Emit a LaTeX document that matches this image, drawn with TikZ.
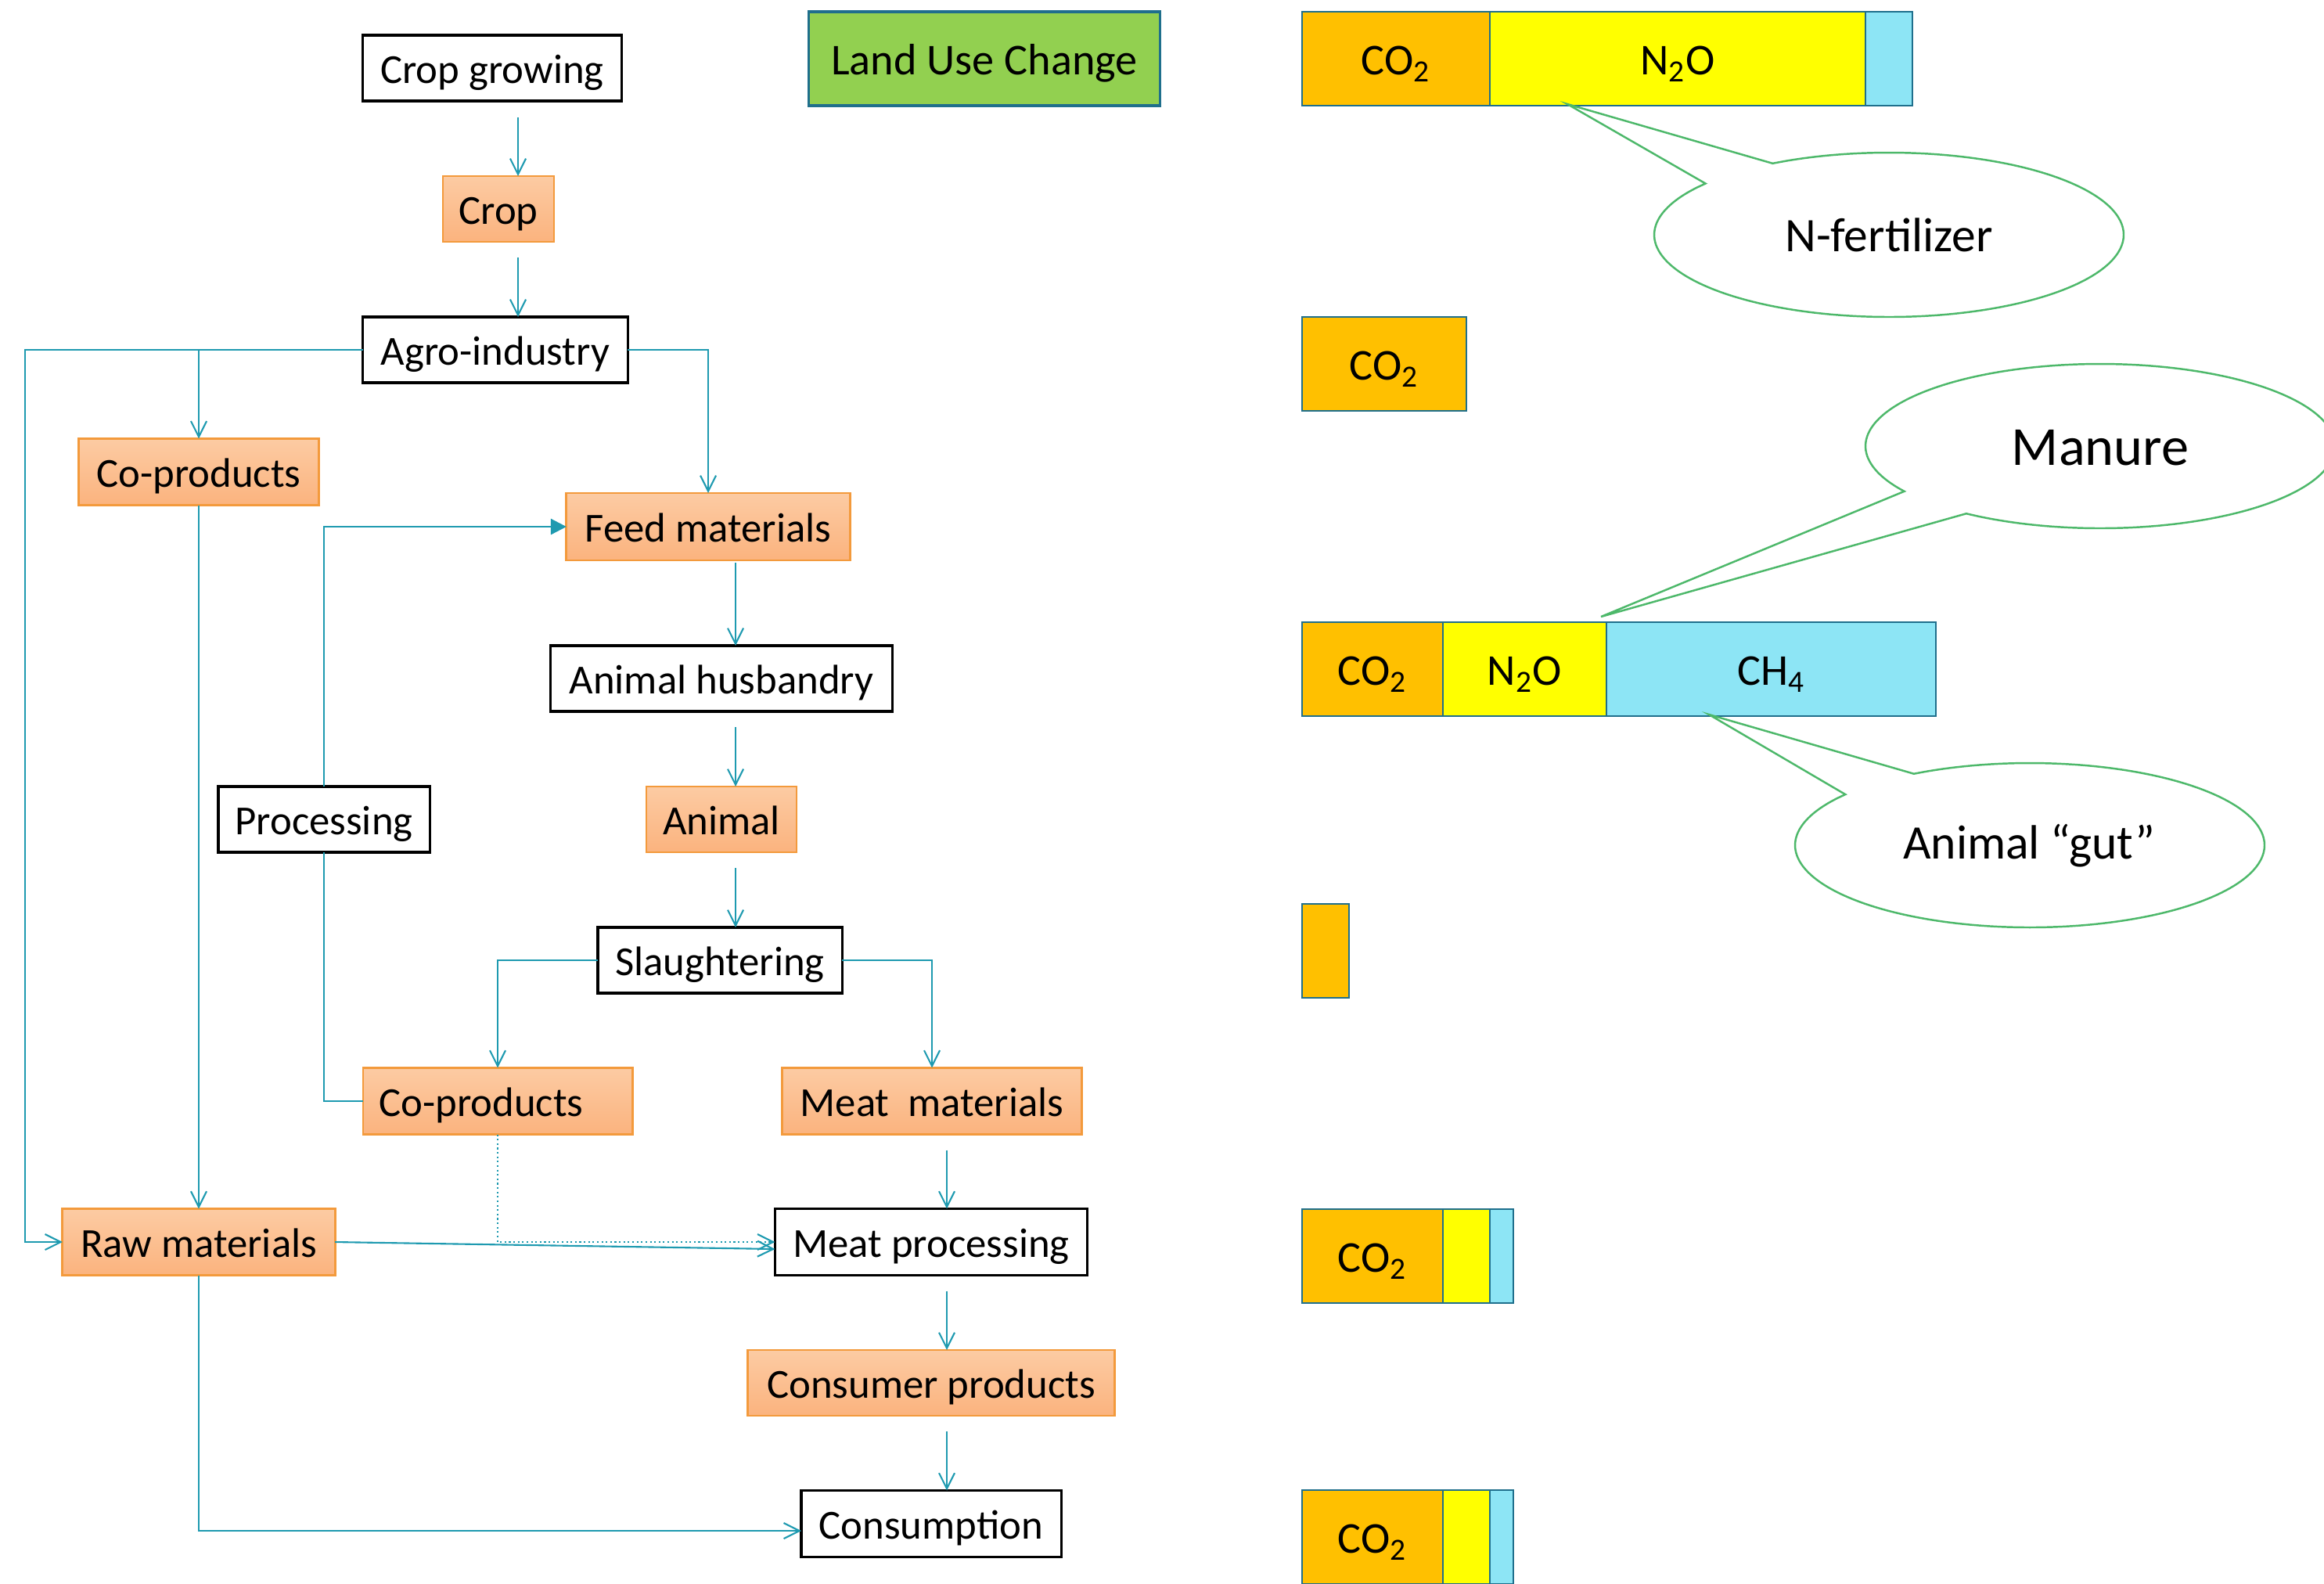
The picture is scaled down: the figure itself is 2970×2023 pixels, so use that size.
\documentclass[tikz,border=0pt]{standalone}
\usepackage{fontspec}
\setmainfont{Carlito}
\usetikzlibrary{arrows.meta,calc}
\definecolor{arrc}{HTML}{1E9AB0}
\definecolor{barb}{HTML}{1F6F8C}
\definecolor{otop}{HTML}{FCCBA3}
\definecolor{obot}{HTML}{FBB37E}
\definecolor{obord}{HTML}{F39A3C}
\definecolor{callg}{HTML}{4DB86A}
\definecolor{coc}{HTML}{FFC000}
\definecolor{nnc}{HTML}{FFFF00}
\definecolor{chc}{HTML}{8DE5F5}
\definecolor{lucc}{HTML}{92D050}
\tikzset{
  wbox/.style={draw=black,line width=0.9pt,fill=white,inner sep=0pt,outer sep=0pt,minimum height=0.84cm,text height=0.46cm,text depth=0.08cm,font=\fontsize{15}{18}\selectfont},
  obox/.style={draw=obord,line width=0.8pt,top color=otop,bottom color=obot,inner sep=0pt,outer sep=0pt,minimum height=0.85cm,text height=0.46cm,text depth=0.08cm,font=\fontsize{15}{18}\selectfont},
  gbar/.style={draw=barb,line width=0.7pt,inner sep=0pt,outer sep=0pt,minimum height=1.2cm,text height=0.48cm,text depth=0.08cm,font=\fontsize{16}{19}\selectfont},
  arr/.style={draw=arrc,line width=0.6pt,-{Straight Barb[length=0.2cm,width=0.2cm]}},
  plainline/.style={draw=arrc,line width=0.6pt},
  farr/.style={draw=arrc,line width=0.75pt,-{Triangle[length=0.2cm,width=0.2cm]}},
  dotarr/.style={draw=arrc,line width=0.6pt,densely dotted,-{Straight Barb[length=0.2cm,width=0.2cm]}},
  callout/.style={draw=callg,line width=0.7pt,fill=white},
  ctext/.style={font=\fontsize{17.5}{21}\selectfont}
}
\begin{document}
\begin{tikzpicture}[x=0.01cm,y=-0.01cm]
\useasboundingbox (0,0) rectangle (2970,2023);
\clip (0,0) rectangle (2970,2023);
% columns
\coordinate (cA) at (662,0);
\coordinate (cB) at (940,0);
\coordinate (cC) at (1210,0);
\coordinate (cL) at (32,0);
% nodes
\node[wbox,minimum width=3.30cm] (cg) at (629,87) {Crop growing};
\node[draw=barb,line width=1pt,fill=lucc,inner sep=0pt,minimum width=4.49cm,minimum height=1.2cm,text height=0.48cm,text depth=0.08cm,font=\fontsize{16}{19}\selectfont] (luc) at (1258,75) {Land Use Change};
\node[obox,minimum width=1.42cm,minimum height=0.84cm] (crop) at (637,267) {Crop};
\node[wbox,minimum width=3.38cm] (agro) at (633,447) {Agro-industry};
\node[obox,minimum width=3.07cm] (cop1) at (254,603) {Co-products};
\node[obox,minimum width=3.62cm,minimum height=0.86cm] (feed) at (905,673) {Feed materials};
\node[wbox,minimum width=4.36cm] (hus) at (922,867) {Animal husbandry};
\node[wbox,minimum width=2.70cm] (proc) at (414,1047) {Processing};
\node[obox,minimum width=1.92cm,minimum height=0.84cm] (animal) at (922,1047) {Animal};
\node[wbox,minimum width=3.12cm] (sl) at (920,1227) {Slaughtering};
\node[obox,minimum width=3.44cm] (cop2) at (636,1407) {Co-products\hspace*{0.42cm}};
\node[obox,minimum width=3.82cm] (meatm) at (1191,1407) {Meat\ \ materials};
\node[obox,minimum width=3.48cm] (raw) at (254,1587) {Raw materials};
\node[wbox,minimum width=3.99cm,minimum height=0.85cm] (mp) at (1190,1587) {Meat processing};
\node[obox,minimum width=4.68cm,minimum height=0.84cm] (cp) at (1190,1767) {Consumer products};
\node[wbox,minimum width=3.32cm,minimum height=0.85cm] (cons) at (1190,1947) {Consumption};
% connectors
\draw[arr] ($(cg.south -| cA)+(0,21)$) -- (crop.north -| cA);
\draw[arr] ($(crop.south -| cA)+(0,20)$) -- (agro.north -| cA);
\draw[arr] (agro.west) -- (agro.west -| cL) -- (raw.west -| cL) -- (raw.west);
\draw[arr] (agro.west -| cop1.north) -- (cop1.north);
\draw[arr] (agro.east) -| (feed.north);
\draw[arr] (cop1.south) -- (cop1.south |- raw.north);
\draw[arr] ($(feed.south -| cB)+(0,3)$) -- (hus.north -| cB);
\draw[arr] ($(hus.south -| cB)+(0,20)$) -- (animal.north -| cB);
\draw[arr] ($(animal.south -| cB)+(0,20)$) -- (sl.north -| cB);
\draw[arr] (sl.west) -| (cop2.north);
\draw[arr] (sl.east) -| (meatm.north);
\draw[plainline] (cop2.west) -| (proc.south);
\draw[farr] (proc.north) |- (feed.west);
\draw[dotarr] (cop2.south) |- (mp.west);
\draw[arr] (raw.east) -- ($(mp.west)+(0,9)$);
\draw[arr] ($(meatm.south -| cC)+(0,20)$) -- (mp.north -| cC);
\draw[arr] ($(mp.south -| cC)+(0,20)$) -- (cp.north -| cC);
\draw[arr] ($(cp.south -| cC)+(0,20)$) -- (cons.north -| cC);
\draw[arr] (raw.south) |- ($(cons.west)+(0,9)$);
% bars
\node[gbar,fill=coc,minimum width=2.40cm] (b1a) at (1784,75) {CO\textsubscript{2}};
\node[gbar,fill=nnc,minimum width=4.80cm] (b1b) at (2144,75) {N\textsubscript{2}O};
\node[gbar,fill=chc,minimum width=0.60cm] (b1c) at (2414,75) {};
\node[gbar,fill=coc,minimum width=2.10cm] (b2a) at (1769,465) {CO\textsubscript{2}};
\node[gbar,fill=coc,minimum width=1.80cm] (b3a) at (1754,855) {CO\textsubscript{2}};
\node[gbar,fill=nnc,minimum width=2.09cm] (b3b) at (1948.5,855) {N\textsubscript{2}O};
\node[gbar,fill=chc,minimum width=4.21cm] (b3c) at (2263.5,855) {CH\textsubscript{4}};
\node[gbar,fill=coc,minimum width=0.60cm] (b4a) at (1694,1215) {};
\node[gbar,fill=coc,minimum width=1.80cm] (b5a) at (1754,1605) {CO\textsubscript{2}};
\node[gbar,fill=nnc,minimum width=0.60cm] (b5b) at (1874,1605) {};
\node[gbar,fill=chc,minimum width=0.30cm] (b5c) at (1919,1605) {};
\node[gbar,fill=coc,minimum width=1.80cm] (b6a) at (1754,1964) {CO\textsubscript{2}};
\node[gbar,fill=nnc,minimum width=0.60cm] (b6b) at (1874,1964) {};
\node[gbar,fill=chc,minimum width=0.30cm] (b6c) at (1919,1964) {};
% callouts
\coordinate (t1) at (2003,133);
\coordinate (t2) at (2046,788);
\coordinate (t3) at (2184,913);
\draw[callout] plot[domain=-119.7:218.6,samples=90,smooth] ({2414+300*cos(\x)},{300+105*sin(\x)}) -- (t1) -- cycle;
\node[ctext] (nf) at (2414,300) {N-fertilizer};
\draw[callout] plot[domain=146.6:484.8,samples=90,smooth] ({2684+300*cos(\x)},{570+105*sin(\x)}) -- (t2) -- cycle;
\node[font=\fontsize{20}{24}\selectfont] (man) at (2684,572) {Manure};
\draw[callout] plot[domain=-119.6:218.2,samples=90,smooth] ({2594+300*cos(\x)},{1080+105*sin(\x)}) -- (t3) -- cycle;
\node[ctext] (gut) at (2593,1081) {Animal “gut”};
\end{tikzpicture}
\end{document}
